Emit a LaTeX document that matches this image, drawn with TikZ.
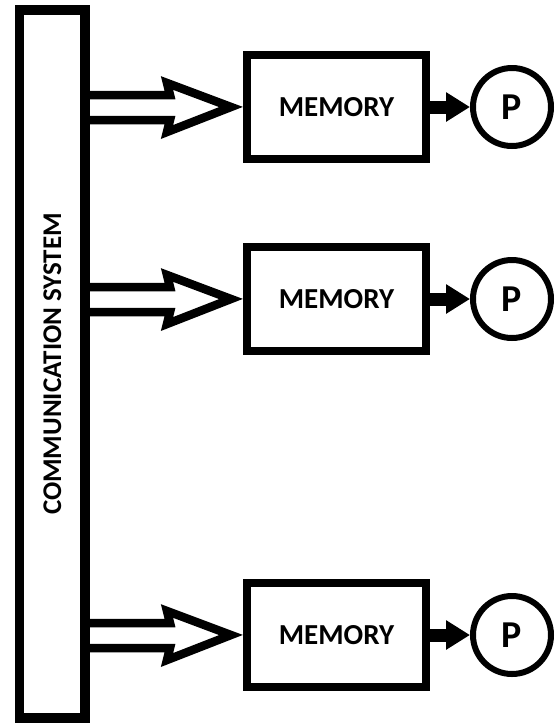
\documentclass[tikz,border=0pt]{standalone}
\usepackage{fontspec}
\setmainfont{Carlito}
\usetikzlibrary{arrows.meta,positioning,calc}

\begin{document}
\begin{tikzpicture}[
    x=1pt, y=-1pt,
    font=\bfseries,
    bar/.style={
        draw,
        line width=9.5pt,
        minimum width=708pt,
        minimum height=65.5pt,
        rotate=90,
        font=\fontsize{27}{30}\selectfont\bfseries
    },
    memory/.style={
        draw,
        line width=8pt,
        minimum width=179pt,
        minimum height=104pt,
        font=\fontsize{29}{32}\selectfont\bfseries
    },
    proc/.style={
        draw,
        circle,
        line width=6pt,
        minimum size=78pt,
        inner sep=0pt,
        font=\fontsize{38}{40}\selectfont\bfseries
    },
    line/.style={line width=13pt, -{Triangle[length=24pt, width=28pt]}},
    hollow/.style={
        line width=8.5pt,
        line join=miter,
        to path={
            ($(\tikztostart)+(-5,-12)$) -- ($(\tikztotarget)+(-73,-12)$)
            -- ($(\tikztotarget)+(-76,-24)$) -- ($(\tikztotarget)+(-12,0)$)
            -- ($(\tikztotarget)+(-76,25)$) -- ($(\tikztotarget)+(-73,13)$)
            -- ($(\tikztostart)+(-5,13)$)
        }
    }
]
\useasboundingbox (0,0) rectangle (557,724);

% --- Left: communication system ---
\node[bar] (comm) at (52.25,364) {COMMUNICATION SYSTEM};

% --- Memories ---
\node[memory] (m1) at (336.5,107) {MEMORY};
\node[memory, below=80pt of m1] (m2) {MEMORY};
\node[memory, below=224pt of m2] (m3) {MEMORY};

% --- Processors ---
\node[proc, right=40pt of m1] (p1) {P};
\node[proc, right=40pt of m2] (p2) {P};
\node[proc, right=40pt of m3] (p3) {P};

% --- Connections ---
\draw[hollow] (comm.south |- m1.west) to (m1.west);
\draw[hollow] (comm.south |- m2.west) to (m2.west);
\draw[hollow] (comm.south |- m3.west) to (m3.west);

\draw[line] (m1) -- (p1);
\draw[line] (m2) -- (p2);
\draw[line] (m3) -- (p3);

\end{tikzpicture}
\end{document}
